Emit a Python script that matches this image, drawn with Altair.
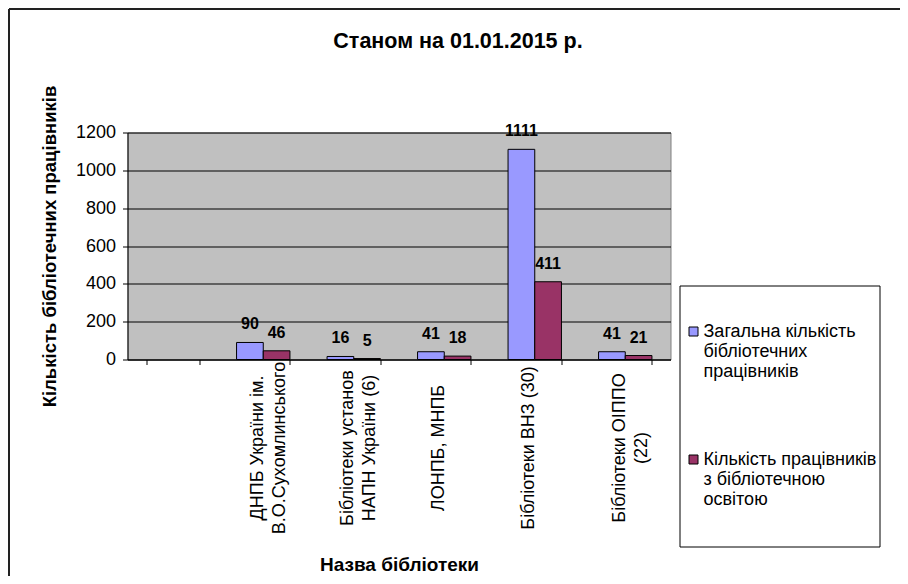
import altair as alt
import pandas as pd

FONT = "Liberation Sans"

title_text = "Станом на 01.01.2015 р."
categories = ["", "ДНПБ України ім.|В.О.Сухомлинського", "Бібліотеки установ|НАПН України (6)",
              "ЛОНПБ, МНПБ", "Бібліотеки ВНЗ (30)", "Бібліотеки ОІППО|(22)"]
bar_categories = categories[1:]
series = ["Загальна кількість|бібліотечних|працівників",
          "Кількість працівників|з бібліотечною|освітою"]
total_staff = [90, 16, 41, 1111, 41]
educated_staff = [46, 5, 18, 411, 21]
colors = ["#9999FF", "#993366"]
y_ticks = [0, 200, 400, 600, 800, 1000, 1200]

rows = []
for c, a, b in zip(bar_categories, total_staff, educated_staff):
    rows.append({"category": c, "series": series[0], "value": a})
    rows.append({"category": c, "series": series[1], "value": b})
df = pd.DataFrame(rows)
dummy = pd.DataFrame({"k": [0]})

base = alt.Chart(df).encode(
    x=alt.X("category:N", sort=categories,
            scale=alt.Scale(domain=categories, paddingInner=0.41, paddingOuter=0.205),
            axis=alt.Axis(labelAngle=270, labelAlign="center", labelBaseline="middle",
                          labelOffset=-6,
                          labelExpr="split(datum.label, '|')", labelLineHeight=22,
                          labelFont=FONT, labelFontSize=18, labelColor="black",
                          labelPadding=83, labelLimit=300, labelOverlap=False,
                          tickBand="extent", tickSize=5, tickColor="black",
                          domainColor="black", grid=False,
                          title="Назва бібліотеки", titleFont=FONT, titleFontSize=19,
                          titleFontWeight="bold", titleColor="black",
                          titleX=271.5, titleY=205, titleBaseline="middle",
                          titleAlign="center")),
    xOffset=alt.XOffset("series:N", sort=series, scale=alt.Scale(domain=series)),
    y=alt.Y("value:Q", scale=alt.Scale(domain=[0, 1200], nice=False),
            axis=alt.Axis(values=y_ticks, format="d", grid=True, gridColor="black",
                          gridWidth=1, domainColor="black", tickColor="black", tickSize=5,
                          labelFont=FONT, labelFontSize=18, labelColor="black",
                          labelPadding=7,
                          title="Кількість бібліотечних працівників", titleFont=FONT,
                          titleFontSize=18.5, titleFontWeight="bold", titleColor="black",
                          titleAngle=270, titleX=-78, titleY=113.5,
                          titleBaseline="middle", titleAlign="center")),
)

bars = base.mark_bar(stroke="black", strokeWidth=1).encode(
    color=alt.Color("series:N", sort=series,
                    scale=alt.Scale(domain=series, range=colors),
                    legend=alt.Legend(orient="none", legendX=557, legendY=190,
                                      title=None, labelExpr="split(datum.label, '|')",
                                      labelFont=FONT, labelFontSize=18, labelColor="black",
                                      labelBaseline="middle", labelOffset=1, labelLimit=300,
                                      symbolType="square", symbolSize=81,
                                      symbolStrokeColor="black", symbolStrokeWidth=1,
                                      rowPadding=70, padding=0))
)

labels = base.mark_text(dy=-13, baseline="alphabetic", font=FONT, fontSize=16,
                        fontWeight="bold", color="black").encode(text="value:Q")

legend_box = alt.Chart(dummy).mark_rect(fillOpacity=0, stroke="black", strokeWidth=1).encode(
    x=alt.value(552.5), x2=alt.value(752.5), y=alt.value(153.5), y2=alt.value(414.5))

frame_top = alt.Chart(dummy).mark_rule(color="#222222", strokeWidth=2).encode(
    x=alt.value(-118.5), x2=alt.value(780), y=alt.value(-123.5))
frame_left = alt.Chart(dummy).mark_rule(color="#222222", strokeWidth=2).encode(
    x=alt.value(-118.5), y=alt.value(-123.5), y2=alt.value(460))

chart = alt.layer(bars, labels, legend_box, frame_top, frame_left).properties(
    width=543, height=227, autosize="none",
    padding={"left": 119.5, "top": 124.5, "right": 229.5, "bottom": 216.5},
    background="white",
    title=alt.TitleParams(title_text, font=FONT, fontSize=21.5, fontWeight="bold",
                          color="black", anchor="middle", frame="group", dx=59,
                          offset=-55, baseline="middle"),
).configure_view(fill="#C0C0C0", stroke="#808080", strokeWidth=1)

chart.save("out.html", embed_options={"renderer": "svg", "actions": False})
